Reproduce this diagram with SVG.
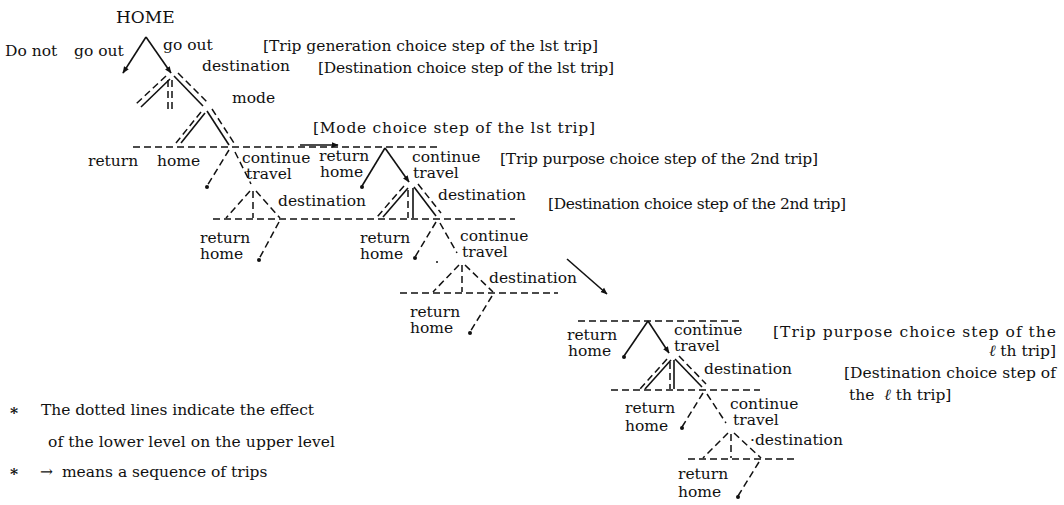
<svg xmlns="http://www.w3.org/2000/svg" width="1064" height="505" viewBox="0 0 1064 505">
<style>
.t{font-family:"DejaVu Serif","Liberation Serif",serif;font-size:15.5px;fill:#111}
.h{font-size:17px}
.s{stroke:#111;stroke-width:1.6;fill:none}
.d{stroke:#111;stroke-width:1.5;fill:none;stroke-dasharray:7 4}
.dot{fill:#111}
</style>
<defs>
<marker id="ah" viewBox="0 0 10 10" refX="9" refY="5" markerWidth="7" markerHeight="7" orient="auto" markerUnits="userSpaceOnUse">
<path d="M0,1 L10,5 L0,9 Z" fill="#111"/>
</marker>
</defs>
<rect width="1064" height="505" fill="#fff"/>
<g id="connectors">
<!-- tree 1 -->
<line class="s" x1="146" y1="37" x2="123" y2="73" marker-end="url(#ah)"/>
<line class="s" x1="146" y1="37" x2="171" y2="73" marker-end="url(#ah)"/>
<line class="d" x1="166" y1="76" x2="136" y2="104"/>
<line class="s" x1="170" y1="79" x2="141" y2="107"/>
<line class="d" x1="168" y1="80" x2="168" y2="110"/>
<line class="d" x1="172" y1="80" x2="172" y2="110"/>
<line class="s" x1="174" y1="76" x2="203" y2="106"/>
<line class="d" x1="178" y1="73" x2="208" y2="103"/>
<line class="d" x1="201" y1="112" x2="176" y2="143"/>
<line class="s" x1="205" y1="113" x2="181" y2="143"/>
<line class="s" x1="207" y1="111" x2="229" y2="145"/>
<line class="d" x1="212" y1="109" x2="234" y2="143"/>
<line class="d" x1="133" y1="147" x2="437" y2="147"/>
<line class="s" x1="300" y1="145" x2="338" y2="145" marker-end="url(#ah)"/>
<line class="d" x1="229" y1="150" x2="207" y2="186"/>
<line class="d" x1="235" y1="152" x2="251" y2="184"/>
<line class="d" x1="250" y1="191" x2="226" y2="218"/>
<line class="d" x1="253" y1="191" x2="253" y2="218"/>
<line class="d" x1="256" y1="191" x2="280" y2="218"/>
<line class="d" x1="213" y1="219" x2="515" y2="219"/>
<line class="d" x1="279" y1="222" x2="259" y2="259"/>
<!-- tree 2 -->
<line class="s" x1="385" y1="148" x2="362" y2="186"/>
<line class="s" x1="385" y1="148" x2="409" y2="182" marker-end="url(#ah)"/>
<line class="d" x1="404" y1="186" x2="377" y2="217"/>
<line class="s" x1="408" y1="188" x2="383" y2="217"/>
<line class="d" x1="408" y1="190" x2="408" y2="218"/>
<line class="s" x1="413" y1="188" x2="413" y2="218"/>
<line class="s" x1="414" y1="187" x2="436" y2="216"/>
<line class="d" x1="418" y1="184" x2="441" y2="213"/>
<line class="d" x1="436" y1="222" x2="415" y2="257"/>
<line class="d" x1="440" y1="223" x2="457" y2="253"/>
<line class="d" x1="459" y1="265" x2="433" y2="292"/>
<line class="d" x1="462" y1="265" x2="462" y2="292"/>
<line class="d" x1="465" y1="265" x2="493" y2="292"/>
<line class="d" x1="400" y1="293" x2="558" y2="293"/>
<line class="d" x1="492" y1="296" x2="470" y2="332"/>
<line class="s" x1="567" y1="259" x2="607" y2="294" marker-end="url(#ah)"/>
<!-- tree l -->
<line class="d" x1="578" y1="321" x2="740" y2="321"/>
<line class="s" x1="648" y1="321" x2="624" y2="356"/>
<line class="s" x1="648" y1="321" x2="669" y2="353" marker-end="url(#ah)"/>
<line class="d" x1="667" y1="359" x2="640" y2="389"/>
<line class="s" x1="671" y1="360" x2="645" y2="389"/>
<line class="d" x1="670" y1="362" x2="670" y2="389"/>
<line class="s" x1="674" y1="360" x2="674" y2="389"/>
<line class="s" x1="675" y1="359" x2="702" y2="387"/>
<line class="d" x1="679" y1="356" x2="706" y2="384"/>
<line class="d" x1="611" y1="390" x2="760" y2="390"/>
<line class="d" x1="703" y1="393" x2="682" y2="427"/>
<line class="d" x1="707" y1="394" x2="726" y2="423"/>
<line class="d" x1="728" y1="433" x2="703" y2="458"/>
<line class="d" x1="731" y1="434" x2="731" y2="458"/>
<line class="d" x1="734" y1="433" x2="761" y2="458"/>
<line class="d" x1="688" y1="459" x2="795" y2="459"/>
<line class="d" x1="759" y1="462" x2="738" y2="496"/>
</g>
<g id="dots">
<circle class="dot" cx="207" cy="187" r="2"/>
<circle class="dot" cx="259" cy="260" r="2"/>
<circle class="dot" cx="362" cy="187" r="2"/>
<circle class="dot" cx="415" cy="258" r="2"/>
<circle class="dot" cx="437" cy="262" r="1"/>
<circle class="dot" cx="470" cy="333" r="2"/>
<circle class="dot" cx="624" cy="357" r="2"/>
<circle class="dot" cx="682" cy="428" r="2"/>
<circle class="dot" cx="738" cy="497" r="2"/>
</g>
<g id="step1-generation">
<text class="t h" x="116" y="23">HOME</text>
<text class="t" x="5" y="56">Do not</text>
<text class="t" x="74" y="56">go out</text>
<text class="t" x="163" y="50">go out</text>
<text class="t" x="263" y="51" textLength="335">[Trip generation choice step of the lst trip]</text>
</g>
<g id="step1-destination">
<text class="t" x="202" y="71">destination</text>
<text class="t" x="318" y="73" textLength="296">[Destination choice step of the lst trip]</text>
</g>
<g id="step1-mode">
<text class="t" x="232" y="103">mode</text>
<text class="t" x="313" y="133" textLength="282">[Mode choice step of the lst trip]</text>
<text class="t" x="88" y="166">return</text>
<text class="t" x="157" y="166">home</text>
<text class="t" x="242" y="163">continue</text>
<text class="t" x="246" y="179">travel</text>
</g>
<g id="step1-sub">
<text class="t" x="278" y="206">destination</text>
<text class="t" x="200" y="243">return</text>
<text class="t" x="200" y="259">home</text>
</g>
<g id="step2-purpose">
<text class="t" x="319" y="161">return</text>
<text class="t" x="320" y="177">home</text>
<text class="t" x="412" y="162">continue</text>
<text class="t" x="413" y="178">travel</text>
<text class="t" x="500" y="164" textLength="318">[Trip purpose choice step of the 2nd trip]</text>
</g>
<g id="step2-destination">
<text class="t" x="438" y="200">destination</text>
<text class="t" x="548" y="209" textLength="298">[Destination choice step of the 2nd trip]</text>
<text class="t" x="360" y="243">return</text>
<text class="t" x="360" y="259">home</text>
<text class="t" x="460" y="241">continue</text>
<text class="t" x="462" y="257">travel</text>
</g>
<g id="step2-sub">
<text class="t" x="489" y="283">destination</text>
<text class="t" x="410" y="317">return</text>
<text class="t" x="410" y="333">home</text>
</g>
<g id="stepl-purpose">
<text class="t" x="567" y="340">return</text>
<text class="t" x="568" y="356">home</text>
<text class="t" x="674" y="335">continue</text>
<text class="t" x="674" y="351">travel</text>
<text class="t" x="773" y="337" textLength="283">[Trip purpose choice step of the</text>
<text class="t" x="1056" y="356" text-anchor="end"><tspan font-style="italic">ℓ</tspan> th trip]</text>
</g>
<g id="stepl-destination">
<text class="t" x="704" y="374">destination</text>
<text class="t" x="844" y="378" textLength="212">[Destination choice step of</text>
<text class="t" x="849" y="400">the <tspan dx="5" font-style="italic">ℓ</tspan> th trip]</text>
<text class="t" x="625" y="413">return</text>
<text class="t" x="625" y="431">home</text>
<text class="t" x="730" y="409">continue</text>
<text class="t" x="733" y="425">travel</text>
</g>
<g id="stepl-sub">
<text class="t" x="750" y="445">·destination</text>
<text class="t" x="678" y="479">return</text>
<text class="t" x="678" y="497">home</text>
</g>
<g id="notes">
<text class="t" x="10" y="418" font-weight="bold">*</text>
<text class="t" x="41" y="415" textLength="273">The dotted lines indicate the effect</text>
<text class="t" x="48" y="447" textLength="287">of the lower level on the upper level</text>
<text class="t" x="10" y="479" font-weight="bold">*</text>
<text class="t" x="40" y="477">→ <tspan dx="4">means a sequence of trips</tspan></text>
</g>
</svg>
